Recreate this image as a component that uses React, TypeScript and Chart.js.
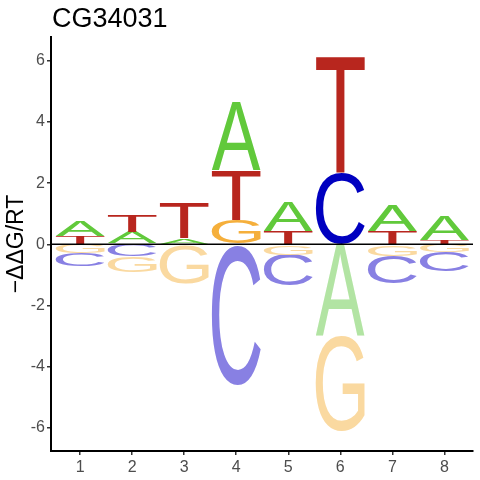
import React, { useEffect, useRef } from 'react';
import { Chart, registerables } from 'chart.js';

Chart.register(...registerables);

// energy logo for CG34031, one value per position for each base
const positions = [1, 2, 3, 4, 5, 6, 7, 8];
const letters = ['A', 'C', 'G', 'T'];
const heightA = [0.50, 0.41, 0.20, 2.25, 0.96, -3.03, 0.85, 0.81];
const heightC = [-0.42, -0.40, -0.03, -4.59, -1.02, 2.36, -0.89, -0.63];
const heightG = [-0.30, -0.52, -1.25, 0.78, -0.34, -3.09, -0.38, -0.26];
const heightT = [0.28, 0.55, 1.15, 1.62, 0.44, 3.80, 0.44, 0.15];
const yTicks = [-6, -4, -2, 0, 2, 4, 6];

const posColors = ['#61C93B', '#0000C0', '#F5AF3B', '#B8261E'];
const negColors = ['#B2E4A3', '#8880E3', '#FAD9A0', '#DC938F'];

const heights = [heightA, heightC, heightG, heightT];
const FONT = '"Liberation Sans", Arial, sans-serif';

// stack letters outward from zero, smallest first
function buildRanges() {
    const ranges = heights.map(() => [] as Array<[number, number]>);
    positions.forEach((_, i) => {
        const order = heights
            .map((h, li) => ({ li, v: h[i] }))
            .sort((a, b) => Math.abs(a.v) - Math.abs(b.v));
        let up = 0;
        let down = 0;
        order.forEach(({ li, v }) => {
            if (v >= 0) {
                ranges[li][i] = [up, up + v];
                up += v;
            } else {
                ranges[li][i] = [down + v, down];
                down += v;
            }
        });
    });
    return ranges;
}

function drawGlyph(ctx: CanvasRenderingContext2D, letter: string, x0: number, y0: number, w: number, h: number) {
    ctx.save();
    ctx.font = '200px ' + FONT;
    ctx.textAlign = 'left';
    ctx.textBaseline = 'alphabetic';
    const m = ctx.measureText(letter);
    const gw = m.actualBoundingBoxLeft + m.actualBoundingBoxRight;
    const gh = m.actualBoundingBoxAscent + m.actualBoundingBoxDescent;
    ctx.translate(x0, y0);
    ctx.scale(w / gw, h / gh);
    ctx.fillText(letter, m.actualBoundingBoxLeft, m.actualBoundingBoxAscent);
    ctx.restore();
}

const logoPlugin = {
    id: 'logoLetters',
    afterDatasetsDraw(chart: any) {
        const ctx = chart.ctx as CanvasRenderingContext2D;
        chart.data.datasets.forEach((_: any, di: number) => {
            const meta = chart.getDatasetMeta(di);
            meta.data.forEach((el: any, i: number) => {
                const { x, y, base, width } = el.getProps(['x', 'y', 'base', 'width'], true);
                const top = Math.min(y, base);
                const h = Math.abs(base - y);
                if (h < 0.5) return;
                ctx.fillStyle = heights[di][i] >= 0 ? posColors[di] : negColors[di];
                drawGlyph(ctx, letters[di], x - width / 2, top, width, h);
            });
        });

        // line at zero
        const { left, right } = chart.chartArea;
        const y0 = chart.scales.y.getPixelForValue(0);
        ctx.save();
        ctx.strokeStyle = '#000000';
        ctx.lineWidth = 1.5;
        ctx.beginPath();
        ctx.moveTo(left, y0);
        ctx.lineTo(right, y0);
        ctx.stroke();
        ctx.restore();
    },
    afterDraw(chart: any) {
        const ctx = chart.ctx as CanvasRenderingContext2D;
        ctx.save();
        ctx.fillStyle = '#000000';
        ctx.font = '27px ' + FONT;
        ctx.textAlign = 'left';
        ctx.textBaseline = 'alphabetic';
        ctx.fillText('CG34031', 52, 27);
        ctx.restore();
    },
};

export default function App() {
    const canvasRef = useRef<HTMLCanvasElement | null>(null);
    const chartRef = useRef<Chart | null>(null);

    useEffect(() => {
        if (!canvasRef.current) return;
        const ranges = buildRanges();

        const datasets = letters.map((letter, li) => ({
            label: letter,
            data: positions.map((p, i) => ({ x: p, y: ranges[li][i] })),
            backgroundColor: 'rgba(0,0,0,0)',
            borderWidth: 0,
            grouped: false,
            categoryPercentage: 1,
            barPercentage: 0.94,
        }));

        chartRef.current = new Chart(canvasRef.current, {
            type: 'bar',
            data: { datasets: datasets as any },
            plugins: [logoPlugin],
            options: {
                animation: false,
                responsive: true,
                maintainAspectRatio: false,
                layout: { padding: { top: 37, right: 7, left: 0, bottom: 0 } },
                plugins: {
                    legend: { display: false },
                    tooltip: { enabled: false },
                },
                scales: {
                    x: {
                        type: 'linear',
                        offset: false,
                        min: 0.44,
                        max: 8.55,
                        afterBuildTicks: (scale: any) => {
                            scale.ticks = positions.map(v => ({ value: v }));
                        },
                        afterFit: (scale: any) => {
                            scale.height = 29;
                        },
                        ticks: {
                            color: '#4D4D4D',
                            font: { family: FONT, size: 16 },
                            padding: 3,
                            callback: (v: any) => String(v),
                        },
                        grid: { offset: false, drawOnChartArea: false, drawTicks: true, tickLength: 4, color: '#333333', lineWidth: 1.5 },
                        border: { display: true, color: '#000000', width: 2 },
                    },
                    y: {
                        min: -6.76,
                        max: 6.78,
                        afterBuildTicks: (scale: any) => {
                            scale.ticks = yTicks.map(v => ({ value: v }));
                        },
                        afterFit: (scale: any) => {
                            scale.width = 51;
                        },
                        ticks: {
                            color: '#4D4D4D',
                            font: { family: FONT, size: 16 },
                            padding: 2,
                            callback: (v: any) => String(v),
                        },
                        title: {
                            display: true,
                            text: '\u2212\u0394\u0394G/RT',
                            color: '#000000',
                            font: { family: FONT, size: 23 },
                            padding: { top: 3, bottom: 0 },
                        },
                        grid: { drawOnChartArea: false, drawTicks: true, tickLength: 4, color: '#333333', lineWidth: 1.5 },
                        border: { display: true, color: '#000000', width: 2 },
                    },
                },
            },
        });

        return () => {
            if (chartRef.current) {
                chartRef.current.destroy();
                chartRef.current = null;
            }
        };
    }, []);

    return (
        <div style={{ position: 'fixed', left: 0, top: 0, width: 480, height: 480, background: '#ffffff' }}>
            <canvas ref={canvasRef} />
        </div>
    );
}
